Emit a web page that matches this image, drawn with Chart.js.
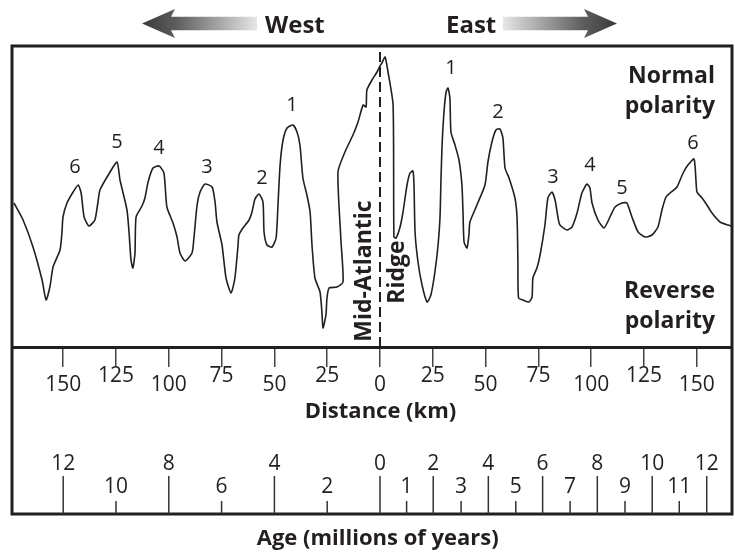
<!DOCTYPE html>
<html>
<head>
<meta charset="utf-8">
<script src="https://cdn.jsdelivr.net/npm/chart.js@4.4.1/dist/chart.umd.min.js"></script>
<style>
  html, body { margin: 0; padding: 0; background: #fff; }
</style>
</head>
<body>
<canvas id="perfil" width="735" height="555"></canvas>
<script>
// magnetic anomaly profile across the ridge (km from ridge axis, relative anomaly)
const profileKm = [-173.3,-169.0,-164.3,-160.0,-158.1,-156.3,-154.8,-151.5,-150.6,-150.1,
  -148.2,-145.3,-142.9,-141.5,-140.1,-137.8,-135.0,-133.6,-132.6,-127.8,
  -124.5,-123.1,-119.8,-118.8,-117.9,-117.0,-116.0,-115.5,-112.7,-111.3,
  -109.8,-107.5,-104.6,-102.3,-100.9,-98.0,-96.1,-94.7,-92.3,-89.0,
  -88.1,-86.6,-85.2,-82.9,-79.5,-78.1,-77.2,-74.8,-72.9,-70.5,
  -68.7,-67.2,-66.8,-64.9,-62.0,-60.6,-59.2,-57.3,-55.4,-54.9,
  -53.5,-51.1,-49.2,-48.3,-47.3,-45.9,-44.0,-41.2,-39.3,-37.9,
  -36.5,-34.6,-33.1,-32.2,-30.8,-28.4,-27.5,-27.0,-25.6,-25.1,
  -24.1,-20.4,-17.5,-18.5,-19.9,-16.6,-12.8,-10.4,-8.0,-6.6,
  -6.2,-3.8,-1.4,0,0.9,2.4,3.8,6.2,6.6,7.6,
  9.5,10.9,12.8,14.2,15.6,16.1,16.6,18.0,19.9,22.3,
  24.1,26.0,27.5,28.4,28.9,29.4,30.3,31.3,32.2,33.1,
  33.6,35.5,37.4,38.8,39.3,39.8,41.2,42.1,42.6,45.9,
  49.7,51.1,53.0,54.9,56.8,58.2,59.2,61.1,63.9,64.9,
  65.3,65.6,67.7,70.5,72.0,72.4,74.3,75.8,78.1,79.5,
  81.4,82.9,84.3,85.2,88.5,90.9,93.3,95.6,98.0,99.4,
  100.4,103.2,106.1,108.9,111.3,114.6,116.9,119.3,122.2,125.5,
  128.8,131.6,133.5,135.4,137.3,140.6,143.5,145.8,148.7,149.6,
  150.1,152.5,154.8,157.2,161.0,164.8,166.2];
const profileValue = [144,127,100,67,47,60,80,97,114,130,
  144,155,162,154,130,121,127,144,157,175,
  185,167,137,114,87,79,94,130,141,149,
  165,179,181,174,140,124,110,94,86,94,
  109,142,155,163,160,145,125,102,69,54,
  69,102,112,119,127,135,148,153,145,115,
  102,100,109,142,182,207,219,222,215,202,
  169,152,135,102,69,55,35,19,32,49,
  59,60,65,107,175,195,212,225,242,240,
  257,267,275,281,284,290,275,242,110,109,
  120,135,162,174,176,162,115,85,62,45,
  52,75,102,129,169,202,235,255,259,249,
  215,202,187,162,135,105,99,112,125,142,
  162,185,205,217,218,209,179,169,149,129,
  85,49,47,45,50,69,79,92,122,149,
  155,147,129,122,117,120,134,154,163,159,
  144,127,119,130,140,144,144,130,115,110,
  112,120,137,150,154,160,174,182,188,167,
  155,149,142,134,125,122,121];

// numbered stripes
const peakLabels = ['6','5','4','3','2','1','1','2','3','4','5','6'];
const peakKm = [-144.4,-124.5,-104.6,-81.9,-55.9,-41.7,33.6,55.9,81.9,99.4,114.6,148.2];
const peakValue = [180,205,199,180,169,242,279,235,170,182,159,204];

// distance axis
const distTicks = [-150,-125,-100,-75,-50,-25,0,25,50,75,100,125,150];

// age axis (where each age falls along the distance axis)
const ageLabels = ['12','10','8','6','4','2','0','1','2','3','4','5','6','7','8','9','10','11','12'];
const ageKm = [-150,-125,-100,-75,-50,-25,0,12.6,25.2,38.4,51.3,64.3,77.0,90.0,102.9,116.0,128.9,141.7,154.7];

const ink = '#231f20';
const fuente = "'Open Sans', sans-serif";
const fondoMarco = 514;

Chart.defaults.font.family = fuente;
Chart.defaults.color = ink;

const esLargo = (i) => {
    if (i === undefined || ageLabels[i] === undefined) return true;
    const edad = Number(ageLabels[i]);
    return ageKm[i] <= 0 ? edad % 4 === 0 : edad % 2 === 0;
};

const flecha = (ctx, punta, cola, cy) => {
    const dir = cola > punta ? 1 : -1;
    const g = ctx.createLinearGradient(punta, 0, cola, 0);
    g.addColorStop(0, '#3a3a3a');
    g.addColorStop(0.3, '#5e5e5e');
    g.addColorStop(1, '#e6e6e6');
    ctx.fillStyle = g;
    ctx.beginPath();
    ctx.moveTo(punta, cy);
    ctx.lineTo(punta + dir * 33, cy - 14.5);
    ctx.lineTo(punta + dir * 29, cy - 6.8);
    ctx.lineTo(cola, cy - 6.8);
    ctx.lineTo(cola, cy + 6.8);
    ctx.lineTo(punta + dir * 29, cy + 6.8);
    ctx.lineTo(punta + dir * 33, cy + 14.5);
    ctx.closePath();
    ctx.fill();
};

const decoraciones = {
    id: 'decoraciones',
    afterDraw(chart) {
        const { ctx, chartArea: a, scales: { x, y } } = chart;
        ctx.save();

        // marco
        ctx.strokeStyle = ink;
        ctx.lineWidth = 3;
        ctx.strokeRect(a.left, a.top, a.right - a.left, fondoMarco - a.top);

        // marcas de edad
        ctx.lineWidth = 1.5;
        ctx.strokeStyle = '#333';
        ageKm.forEach((km, i) => {
            const px = x.getPixelForValue(km);
            ctx.beginPath();
            ctx.moveTo(px, fondoMarco);
            ctx.lineTo(px, esLargo(i) ? 476 : 501);
            ctx.stroke();
        });

        // flechas y rumbos
        flecha(ctx, 142, 257, 23.5);
        flecha(ctx, 617, 503, 23.5);
        ctx.fillStyle = ink;
        ctx.font = `bold 24px ${fuente}`;
        ctx.textAlign = 'left';
        ctx.textBaseline = 'alphabetic';
        ctx.fillText('West', 265, 33);
        ctx.fillText('East', 446, 33);

        // polaridad
        ctx.font = `bold 23px ${fuente}`;
        ctx.textAlign = 'right';
        ctx.fillText('Normal', 715, 83);
        ctx.fillText('polarity', 715, 113);
        ctx.fillText('Reverse', 715, 298);
        ctx.fillText('polarity', 715, 328);

        // dorsal
        ctx.textAlign = 'center';
        [['Mid-Atlantic', 371, 271], ['Ridge', 403.5, 272]].forEach(([t, tx, ty]) => {
            ctx.save();
            ctx.translate(tx, ty);
            ctx.rotate(-Math.PI / 2);
            ctx.fillText(t, 0, 0);
            ctx.restore();
        });

        // numeros de franjas
        ctx.font = `20px ${fuente}`;
        ctx.textBaseline = 'middle';
        peakLabels.forEach((t, i) => {
            ctx.fillText(t, x.getPixelForValue(peakKm[i]), y.getPixelForValue(peakValue[i]));
        });

        ctx.restore();
    }
};

const ctx = document.getElementById('perfil').getContext('2d');

const chartPerfil = new Chart(ctx, {
    type: 'line',
    data: {
        datasets: [{
            label: 'Anomalía',
            data: profileKm.map((km, i) => ({ x: km, y: profileValue[i] })),
            borderColor: ink,
            borderWidth: 1.6,
            pointRadius: 0,
            tension: 0.2,
            fill: false
        }, {
            label: 'Dorsal',
            data: [{ x: 0, y: 0 }, { x: 0, y: 301 }],
            borderColor: ink,
            borderWidth: 2,
            borderDash: [10, 5],
            pointRadius: 0
        }]
    },
    options: {
        responsive: false,
        animation: false,
        layout: { padding: { left: 12, right: 3, top: 46, bottom: 0 } },
        plugins: { legend: { display: false }, tooltip: { enabled: false } },
        scales: {
            x: {
                type: 'linear',
                position: 'bottom',
                weight: 0,
                min: -174.24,
                max: 166.67,
                afterBuildTicks: (scale) => { scale.ticks = distTicks.map(v => ({ value: v })); },
                afterFit: (scale) => { scale.height = 83; },
                grid: { drawOnChartArea: false, tickLength: 20, color: '#444', lineWidth: 1.5 },
                border: { display: true, width: 3, color: ink },
                ticks: {
                    autoSkip: false,
                    maxRotation: 0,
                    padding: 0,
                    color: ink,
                    callback: (value) => Math.abs(value),
                    font: (c) => {
                        const bajo = c.tick && Math.abs(c.tick.value) % 50 === 0;
                        return { size: 21, lineHeight: bajo ? '36px' : '18px' };
                    }
                },
                title: {
                    display: true,
                    // leading spaces centre the title on the ridge axis, as in the figure
                    text: '\u00a0\u00a0\u00a0Distance (km)',
                    color: ink,
                    font: { size: 22, weight: 'bold' },
                    padding: { top: 0, bottom: 5 }
                }
            },
            age: {
                type: 'linear',
                position: 'bottom',
                weight: 1,
                min: -174.24,
                max: 166.67,
                afterBuildTicks: (scale) => { scale.ticks = ageKm.map(v => ({ value: v })); },
                afterFit: (scale) => { scale.height = 125; },
                grid: { display: false, drawTicks: false },
                border: { display: false },
                ticks: {
                    autoSkip: false,
                    maxRotation: 0,
                    padding: 0,
                    color: ink,
                    callback: (value, index) => ageLabels[index],
                    font: (c) => ({
                        size: 21,
                        lineHeight: c.tick && !esLargo(c.index) ? '115px' : '68px'
                    })
                },
                title: {
                    display: true,
                    text: '\u00a0\u00a0Age (millions of years)',
                    color: ink,
                    font: { size: 22, weight: 'bold' },
                    padding: { top: 0, bottom: 3 }
                }
            },
            y: { display: false, min: 0, max: 301 }
        }
    },
    plugins: [decoraciones]
});
</script>
</body>
</html>
